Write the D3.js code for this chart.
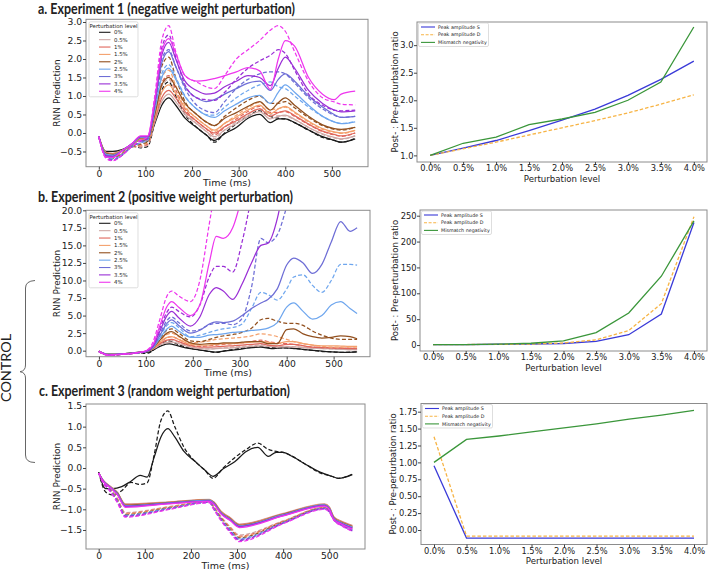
<!DOCTYPE html>
<html>
<head>
<meta charset="utf-8">
<script src="https://cdn.jsdelivr.net/npm/d3@7"></script>
<style>
body { margin: 0; background: #fff; }
svg { display: block; }
text { font-family: "DejaVu Sans", sans-serif; fill: #222; }
</style>
</head>
<body>
<script>
// ---- shared ----
var levels = ["0%", "0.5%", "1%", "1.5%", "2%", "2.5%", "3%", "3.5%", "4%"];
var levelColors = ["#1a1a1a", "#cfa9a7", "#e0675c", "#f4a06c", "#92501f", "#6ea6ee", "#6e6ed6", "#9a2fd6", "#ee36ee"];
var levelsX = ["0.0%", "0.5%", "1.0%", "1.5%", "2.0%", "2.5%", "3.0%", "3.5%", "4.0%"];
var timeTicks = [0, 100, 200, 300, 400, 500];

// control (0%) responses, standard (solid) and deviant (dashed)
var tA = [0,15,30,50,70,90,105,120,135,150,165,185,210,230,248,270,295,320,345,368,385,400,420,450,480,505,520,550];
var ctrlS = [-0.1,-0.5,-0.5,-0.45,-0.32,-0.18,-0.22,0.25,0.75,0.95,0.75,0.4,0.15,-0.05,-0.2,-0.02,0.15,0.4,0.5,0.28,0.38,0.38,0.28,0.08,-0.1,-0.2,-0.25,-0.16];
var ctrlD = [-0.1,-0.58,-0.65,-0.55,-0.35,-0.4,-0.36,0.3,1.15,1.38,1.0,0.5,0.15,-0.05,-0.25,0.0,0.25,0.45,0.6,0.45,0.4,0.38,0.28,0.08,-0.12,-0.2,-0.25,-0.15];

// ---- experiment 1 (levels 0.5% .. 4%) ----
var aS = [
  [-0.1,-0.52,-0.55,-0.47,-0.33,-0.17,-0.2,0.3,0.85,1.05,0.85,0.5,0.25,0.05,-0.1,0.08,0.25,0.45,0.58,0.38,0.45,0.48,0.37,0.15,-0.02,-0.12,-0.16,-0.08],
  [-0.1,-0.53,-0.56,-0.47,-0.33,-0.16,-0.18,0.35,0.95,1.15,0.95,0.58,0.32,0.12,0.0,0.17,0.33,0.52,0.65,0.45,0.55,0.6,0.47,0.24,0.05,-0.04,-0.08,0.0],
  [-0.1,-0.54,-0.57,-0.47,-0.32,-0.15,-0.16,0.42,1.1,1.3,1.07,0.67,0.4,0.2,0.08,0.26,0.43,0.62,0.75,0.52,0.65,0.72,0.57,0.32,0.12,0.03,0.0,0.07],
  [-0.1,-0.55,-0.58,-0.48,-0.32,-0.13,-0.14,0.5,1.3,1.5,1.25,0.8,0.5,0.3,0.2,0.4,0.55,0.72,0.85,0.62,0.82,0.95,0.75,0.45,0.22,0.12,0.1,0.15],
  [-0.1,-0.57,-0.6,-0.48,-0.32,-0.12,-0.12,0.6,1.5,1.75,1.45,0.98,0.65,0.48,0.42,0.6,0.78,0.95,1.02,0.8,1.1,1.3,1.1,0.75,0.45,0.3,0.25,0.3],
  [-0.1,-0.6,-0.62,-0.48,-0.3,-0.1,-0.1,0.7,1.9,2.2,1.8,1.25,0.95,0.85,0.9,1.05,1.2,1.35,1.4,1.15,1.45,1.6,1.4,1.0,0.7,0.5,0.42,0.45],
  [-0.1,-0.62,-0.64,-0.48,-0.3,-0.1,-0.1,0.8,2.1,2.45,2.0,1.4,1.15,1.05,1.08,1.25,1.4,1.55,1.5,1.28,1.75,2.05,1.75,1.15,0.8,0.62,0.57,0.6],
  [-0.1,-0.65,-0.66,-0.48,-0.3,-0.08,-0.08,0.9,2.2,2.55,2.15,1.55,1.4,1.42,1.47,1.55,1.65,1.77,1.68,1.18,2.0,2.5,2.35,1.5,1.05,0.9,1.05,1.13]
];
var aD = [
  [-0.1,-0.58,-0.65,-0.55,-0.37,-0.38,-0.33,0.35,1.25,1.45,1.08,0.58,0.25,0.05,-0.15,0.08,0.3,0.5,0.65,0.5,0.46,0.46,0.36,0.15,-0.04,-0.13,-0.17,-0.08],
  [-0.1,-0.6,-0.66,-0.55,-0.38,-0.35,-0.3,0.4,1.35,1.55,1.17,0.65,0.32,0.12,-0.05,0.16,0.38,0.58,0.72,0.56,0.56,0.58,0.45,0.23,0.04,-0.05,-0.09,0.0],
  [-0.1,-0.6,-0.67,-0.56,-0.38,-0.32,-0.27,0.48,1.5,1.7,1.28,0.73,0.4,0.2,0.04,0.26,0.48,0.68,0.83,0.63,0.66,0.7,0.55,0.3,0.1,0.02,-0.01,0.07],
  [-0.1,-0.6,-0.68,-0.57,-0.38,-0.3,-0.24,0.6,1.8,2.05,1.5,0.85,0.5,0.3,0.2,0.45,0.68,0.88,1.0,0.8,0.8,0.85,0.68,0.42,0.2,0.1,0.08,0.15],
  [-0.1,-0.62,-0.7,-0.58,-0.38,-0.27,-0.2,0.65,1.6,1.85,1.5,1.0,0.65,0.5,0.48,0.7,0.95,1.15,1.3,1.38,1.25,1.2,1.0,0.7,0.45,0.3,0.26,0.3],
  [-0.1,-0.64,-0.72,-0.6,-0.38,-0.25,-0.17,0.75,2.0,2.25,1.8,1.2,0.75,0.6,0.55,0.85,1.2,1.45,1.6,1.65,1.65,1.6,1.35,0.95,0.65,0.48,0.42,0.45],
  [-0.1,-0.66,-0.74,-0.6,-0.37,-0.22,-0.14,0.85,2.3,2.65,2.05,1.3,0.95,0.9,0.88,1.1,1.45,1.75,1.95,2.1,2.25,2.15,1.7,1.05,0.75,0.62,0.6,0.62],
  [-0.1,-0.68,-0.75,-0.6,-0.37,-0.2,-0.1,1.0,2.5,2.9,2.2,1.55,1.38,1.25,1.2,1.55,2.0,2.25,2.5,2.78,2.9,2.75,2.2,1.4,0.95,0.84,0.78,0.76]
];

// ---- experiment 2 ----
var tB = [0,20,50,80,100,115,130,145,155,170,195,215,235,250,265,285,305,325,345,360,380,400,415,435,455,475,495,515,535,550];
var bS = [
  [-0.1,-0.55,-0.45,-0.3,-0.1,0.2,0.8,1.15,1.2,1.0,0.5,0.3,0.25,0.3,0.35,0.4,0.5,0.6,0.7,0.6,0.5,0.55,0.55,0.45,0.35,0.3,0.25,0.2,0.15,0.15],
  [-0.1,-0.55,-0.45,-0.3,-0.1,0.25,1.0,1.5,1.6,1.3,0.7,0.5,0.5,0.55,0.6,0.7,0.8,0.9,1.0,0.8,0.7,0.9,0.9,0.7,0.5,0.45,0.4,0.35,0.3,0.3],
  [-0.1,-0.55,-0.45,-0.3,-0.1,0.3,1.2,1.9,2.0,1.6,0.9,0.8,0.8,0.9,1.0,1.0,1.1,1.2,1.3,1.2,1.0,1.3,1.3,1.0,0.8,0.7,0.7,0.65,0.6,0.6],
  [-0.1,-0.55,-0.45,-0.3,-0.1,0.35,1.5,2.5,2.7,2.1,1.1,0.9,1.0,1.0,1.1,1.1,1.2,1.3,1.3,1.0,1.0,3.0,3.1,2.4,2.0,1.8,1.9,2.1,2.0,1.7],
  [-0.1,-0.55,-0.45,-0.3,-0.1,0.4,1.8,3.1,3.5,2.8,1.9,1.9,2.2,2.3,2.4,2.6,2.7,2.9,3.0,3.2,4.0,6.2,6.8,5.6,4.5,5.0,6.5,7.0,6.0,5.3],
  [-0.1,-0.55,-0.45,-0.3,-0.1,0.5,2.2,3.9,4.4,3.6,2.5,2.9,3.8,4.1,4.0,4.2,5.0,6.0,6.8,7.3,8.8,12.2,13.2,12.5,11.0,12.3,15.5,18.4,17.0,17.5],
  [-0.1,-0.6,-0.5,-0.3,-0.1,0.6,2.8,5.0,5.6,4.7,3.5,4.8,8.0,9.0,8.5,7.3,9.5,12.5,15.0,15.3,18.8,26],
  [-0.1,-0.62,-0.5,-0.3,-0.05,0.8,3.6,6.3,7.0,6.2,5.0,6.5,12.5,16.3,16.0,17.5,22]
];
var bD = [
  [-0.1,-0.6,-0.5,-0.35,-0.15,0.25,1.0,1.45,1.5,1.2,0.55,0.3,0.25,0.3,0.4,0.5,0.6,0.7,0.85,0.75,0.6,0.6,0.55,0.45,0.35,0.3,0.25,0.2,0.15,0.15],
  [-0.1,-0.6,-0.5,-0.35,-0.15,0.3,1.2,1.85,2.0,1.6,0.8,0.6,0.7,0.8,0.9,1.0,1.1,1.3,1.5,1.3,1.1,1.0,0.9,0.7,0.5,0.45,0.4,0.35,0.35,0.3],
  [-0.1,-0.6,-0.5,-0.35,-0.15,0.35,1.4,2.3,2.5,2.0,1.1,1.2,1.4,1.6,1.7,1.8,1.9,2.1,2.4,2.3,2.0,1.6,1.3,1.0,0.8,0.6,0.5,0.5,0.5,0.5],
  [-0.1,-0.6,-0.5,-0.35,-0.15,0.4,1.7,2.9,3.1,2.5,1.4,1.3,1.6,1.9,2.1,2.3,2.6,3.2,4.4,4.6,4.2,3.9,3.9,3.6,2.8,2.2,1.8,1.6,1.6,1.6],
  [-0.1,-0.6,-0.5,-0.35,-0.15,0.45,2.1,3.6,4.0,3.3,2.0,2.2,2.6,2.9,3.1,3.3,3.8,6.0,8.3,8.0,7.2,8.8,10.5,10.8,9.3,8.3,10.0,12.3,12.3,12.2],
  [-0.1,-0.6,-0.5,-0.35,-0.15,0.55,2.4,4.3,4.8,4.0,2.8,3.0,3.7,3.9,3.9,3.7,4.6,9.0,16.0,15.4,16.5,20.5,24],
  [-0.1,-0.62,-0.5,-0.3,-0.1,0.7,3.2,5.5,6.2,5.6,4.8,6.5,10.5,12.0,12.0,11.2,15.5,22],
  [-0.1,-0.65,-0.5,-0.3,0.0,1.2,4.5,7.8,8.5,7.8,7.0,10.0,18.0,24]
];

// ---- experiment 3 ----
var tC = [0,10,25,40,58,150,240,250,265,285,305,400,490,500,510,525,550];
var cS = [
  [-0.12,-0.3,-0.44,-0.58,-0.87,-0.82,-0.76,-0.82,-1.04,-1.2,-1.36,-1.1,-0.87,-0.94,-1.18,-1.28,-1.39],
  [-0.12,-0.3,-0.45,-0.59,-0.88,-0.83,-0.77,-0.83,-1.05,-1.21,-1.37,-1.11,-0.88,-0.95,-1.19,-1.29,-1.4],
  [-0.12,-0.31,-0.45,-0.6,-0.89,-0.83,-0.77,-0.84,-1.06,-1.22,-1.38,-1.12,-0.88,-0.96,-1.2,-1.3,-1.41],
  [-0.12,-0.31,-0.46,-0.6,-0.9,-0.84,-0.78,-0.84,-1.07,-1.23,-1.39,-1.12,-0.89,-0.97,-1.21,-1.31,-1.42],
  [-0.12,-0.31,-0.46,-0.61,-0.91,-0.85,-0.78,-0.85,-1.08,-1.24,-1.4,-1.13,-0.89,-0.97,-1.22,-1.32,-1.43],
  [-0.12,-0.32,-0.47,-0.62,-0.92,-0.85,-0.79,-0.86,-1.09,-1.25,-1.41,-1.14,-0.9,-0.98,-1.23,-1.33,-1.45],
  [-0.12,-0.32,-0.47,-0.63,-0.93,-0.86,-0.8,-0.87,-1.1,-1.26,-1.42,-1.15,-0.91,-0.99,-1.24,-1.34,-1.46],
  [-0.12,-0.33,-0.48,-0.64,-0.95,-0.87,-0.81,-0.88,-1.11,-1.27,-1.44,-1.16,-0.92,-1.0,-1.25,-1.35,-1.48]
];
var cD = [
  [-0.12,-0.33,-0.5,-0.72,-1.08,-0.94,-0.8,-0.94,-1.17,-1.42,-1.62,-1.28,-0.95,-1.0,-1.2,-1.32,-1.43],
  [-0.12,-0.34,-0.51,-0.74,-1.1,-0.95,-0.81,-0.95,-1.19,-1.44,-1.65,-1.29,-0.96,-1.01,-1.21,-1.33,-1.45],
  [-0.12,-0.34,-0.52,-0.75,-1.11,-0.96,-0.81,-0.96,-1.2,-1.46,-1.67,-1.3,-0.96,-1.02,-1.22,-1.34,-1.46],
  [-0.12,-0.35,-0.53,-0.77,-1.13,-0.97,-0.82,-0.97,-1.21,-1.48,-1.69,-1.31,-0.97,-1.03,-1.23,-1.35,-1.47],
  [-0.12,-0.35,-0.54,-0.78,-1.14,-0.98,-0.82,-0.98,-1.23,-1.5,-1.71,-1.32,-0.98,-1.04,-1.24,-1.36,-1.49],
  [-0.12,-0.36,-0.55,-0.8,-1.16,-0.99,-0.83,-0.99,-1.24,-1.52,-1.73,-1.33,-0.98,-1.05,-1.25,-1.37,-1.5],
  [-0.12,-0.36,-0.56,-0.81,-1.17,-1.0,-0.83,-1.0,-1.25,-1.54,-1.75,-1.34,-0.99,-1.06,-1.26,-1.38,-1.52],
  [-0.12,-0.37,-0.57,-0.83,-1.19,-1.01,-0.84,-1.01,-1.27,-1.56,-1.78,-1.35,-1.0,-1.07,-1.27,-1.39,-1.53]
];

// ---- post : pre ratios ----
var ratioA_S = [1.0,1.13,1.27,1.45,1.64,1.84,2.09,2.38,2.71];
var ratioA_D = [1.0,1.12,1.24,1.37,1.5,1.63,1.77,1.93,2.1];
var ratioA_M = [1.0,1.22,1.33,1.56,1.66,1.78,2.0,2.33,3.33];
var ratioB_S = [1,1,1.5,2,3,7,20,60,237];
var ratioB_D = [1,1,1.3,2,4,10,28,80,248];
var ratioB_M = [1,1,1.8,3.5,8,24,62,133,240];
var ratioC_S = [0.95,-0.12,-0.12,-0.12,-0.12,-0.12,-0.12,-0.12,-0.12];
var ratioC_D = [1.38,-0.09,-0.09,-0.09,-0.09,-0.09,-0.09,-0.09,-0.09];
var ratioC_M = [1.0,1.34,1.39,1.45,1.51,1.57,1.64,1.7,1.77];
var ratioNames = ["Peak amplitude S", "Peak amplitude D", "Mismatch negativity"];
var ratioColors = ["#3a3ad8", "#f7b445", "#3a963a"];

var svg = d3.select("body").append("svg").attr("width", 709).attr("height", 572);

function frame(x0, y0, x1, y1) {
  svg.append("rect").attr("x", x0).attr("y", y0).attr("width", x1 - x0).attr("height", y1 - y0)
    .attr("fill", "none").attr("stroke", "#8c8c8c").attr("stroke-width", 1);
}

function styleAxis(g, fs) {
  g.select(".domain").remove();
  g.selectAll(".tick line").attr("stroke", "#444");
  g.selectAll(".tick text").style("font-size", fs + "px").style("font-family", "DejaVu Sans").attr("fill", "#222");
}

function seriesFor(rowsS, rowsD, times) {
  var out = [];
  out.push({t: tA, v: ctrlS, color: levelColors[0], dash: false});
  out.push({t: tA, v: ctrlD, color: levelColors[0], dash: true});
  rowsS.forEach(function(r, i) {
    out.push({t: times, v: r, color: levelColors[i + 1], dash: false});
    out.push({t: times, v: rowsD[i], color: levelColors[i + 1], dash: true});
  });
  return out;
}

function drawLeft(p) {
  var x = d3.scaleLinear().domain([-27.5, 577.5]).range([p.x0, p.x1]);
  var y = d3.scaleLinear().domain(p.ydom).range([p.y1, p.y0]);
  svg.append("clipPath").attr("id", "clip" + p.id).append("rect")
    .attr("x", p.x0).attr("y", p.y0).attr("width", p.x1 - p.x0).attr("height", p.y1 - p.y0);
  var g = svg.append("g").attr("clip-path", "url(#clip" + p.id + ")");
  var line = d3.line().x(function(d) { return x(d[0]); }).y(function(d) { return y(d[1]); })
    .curve(d3.curveMonotoneX);
  p.series.forEach(function(s) {
    var pts = s.v.map(function(v, i) { return [s.t[i], v]; });
    g.append("path").attr("d", line(pts)).attr("fill", "none")
      .attr("stroke", s.color).attr("stroke-width", 1.25)
      .attr("stroke-dasharray", s.dash ? "4,2.2" : null);
  });
  frame(p.x0, p.y0, p.x1, p.y1);

  var gx = svg.append("g").attr("transform", "translate(0," + p.y1 + ")")
    .call(d3.axisBottom(x).tickValues(timeTicks).tickSize(3).tickPadding(0.5).tickFormat(d3.format("d")));
  styleAxis(gx, 9.2);
  var gy = svg.append("g").attr("transform", "translate(" + p.x0 + ",0)")
    .call(d3.axisLeft(y).tickValues(p.yticks).tickSize(3).tickPadding(0.8).tickFormat(d3.format(".1f")));
  styleAxis(gy, 9.2);

  svg.append("text").attr("x", (p.x0 + p.x1) / 2).attr("y", p.y1 + 19.5)
    .attr("text-anchor", "middle").style("font-size", "9.5px").text("Time (ms)");
  svg.append("text").attr("transform", "translate(60," + (p.y0 + p.y1) / 2 + ") rotate(-90)")
    .attr("text-anchor", "middle").style("font-size", "9px").text("RNN Prediction");

  if (p.legend) {
    var lx = p.x0 + 3, ly = p.y0 + 2.5;
    svg.append("rect").attr("x", lx).attr("y", ly).attr("width", 49).attr("height", 75).attr("rx", 1.5)
      .attr("fill", "#fff").attr("fill-opacity", 0.85).attr("stroke", "#d0d0d0").attr("stroke-width", 0.7);
    svg.append("text").attr("x", lx + 24.5).attr("y", ly + 5.8).attr("text-anchor", "middle")
      .style("font-size", "5.4px").text("Perturbation level");
    levels.forEach(function(lab, i) {
      var yy = ly + 10.5 + i * 7.37;
      svg.append("line").attr("x1", lx + 10).attr("x2", lx + 21.5).attr("y1", yy).attr("y2", yy)
        .attr("stroke", levelColors[i]).attr("stroke-width", 1.1);
      svg.append("text").attr("x", lx + 25).attr("y", yy + 1.9).style("font-size", "5.4px").text(lab);
    });
  }
}

function drawRight(p) {
  var x = d3.scaleLinear().domain([-0.4, 8.4]).range([p.x0, p.x1]);
  var y = d3.scaleLinear().domain(p.ydom).range([p.y1, p.y0]);
  var line = d3.line().x(function(d, i) { return x(i); }).y(function(d) { return y(d); });
  [p.s, p.d, p.m].forEach(function(vals, k) {
    svg.append("path").attr("d", line(vals)).attr("fill", "none")
      .attr("stroke", ratioColors[k]).attr("stroke-width", 1.3)
      .attr("stroke-dasharray", k === 1 ? "3.5,2" : null);
  });
  frame(p.x0, p.y0, p.x1, p.y1);

  var gx = svg.append("g").attr("transform", "translate(0," + p.y1 + ")")
    .call(d3.axisBottom(x).tickValues(d3.range(9)).tickSize(3).tickPadding(0.5)
      .tickFormat(function(i) { return levelsX[i]; }));
  styleAxis(gx, 8.3);
  var gy = svg.append("g").attr("transform", "translate(" + p.x0 + ",0)")
    .call(d3.axisLeft(y).tickValues(p.yticks).tickSize(3).tickPadding(0.5).tickFormat(d3.format(p.yfmt)));
  styleAxis(gy, 8.3);

  svg.append("text").attr("x", (p.x0 + p.x1) / 2).attr("y", p.y1 + 19.5)
    .attr("text-anchor", "middle").style("font-size", "8.6px").text("Perturbation level");
  svg.append("text").attr("transform", "translate(" + p.labx + "," + (p.y0 + p.y1) / 2 + ") rotate(-90)")
    .attr("text-anchor", "middle").style("font-size", "8.5px").text("Post- : Pre-perturbation ratio");

  var lx = p.x0 + 1.5, ly = p.y0 + 1;
  svg.append("rect").attr("x", lx).attr("y", ly).attr("width", 70).attr("height", 23.5).attr("rx", 1.5)
    .attr("fill", "#fff").attr("fill-opacity", 0.85).attr("stroke", "#d0d0d0").attr("stroke-width", 0.7);
  ratioNames.forEach(function(nm, k) {
    var yy = ly + 4 + k * 7.7;
    svg.append("line").attr("x1", lx + 2.5).attr("x2", lx + 16.5).attr("y1", yy).attr("y2", yy)
      .attr("stroke", ratioColors[k]).attr("stroke-width", 1.1)
      .attr("stroke-dasharray", k === 1 ? "3,1.6" : null);
    svg.append("text").attr("x", lx + 19.5).attr("y", yy + 1.7).style("font-size", "4.8px").text(nm);
  });
}

function title(txt, x, y, w) {
  svg.append("text").attr("x", x).attr("y", y).attr("textLength", w).attr("lengthAdjust", "spacingAndGlyphs")
    .style("font-family", "Lato").style("font-weight", "700").style("font-size", "14.5px").attr("fill", "#111")
    .text(txt);
}

// ---- panel a ----
title("a. Experiment 1 (negative weight perturbation)", 38, 13.5, 257);
drawLeft({id: "a", x0: 86, x1: 368, y0: 19.3, y1: 166.7, ydom: [-0.911, 3.073],
  yticks: [-0.5, 0, 0.5, 1, 1.5, 2, 2.5, 3], series: seriesFor(aS, aD, tA), legend: true});
drawRight({x0: 417, x1: 707, y0: 22, y1: 162, ydom: [0.88, 3.42], yticks: [1, 1.5, 2, 2.5, 3], yfmt: ".1f",
  labx: 398, s: ratioA_S, d: ratioA_D, m: ratioA_M});

// ---- panel b ----
title("b. Experiment 2 (positive weight perturbation)", 38, 201.8, 255);
drawLeft({id: "b", x0: 86, x1: 370, y0: 210.3, y1: 356.7, ydom: [-0.86, 20],
  yticks: [0, 2.5, 5, 7.5, 10, 12.5, 15, 17.5, 20], series: seriesFor(bS, bD, tB), legend: true});
drawRight({x0: 420, x1: 707, y0: 210, y1: 351, ydom: [-11.5, 261], yticks: [0, 50, 100, 150, 200, 250], yfmt: "d",
  labx: 398, s: ratioB_S, d: ratioB_D, m: ratioB_M});

// ---- panel c ----
title("c. Experiment 3 (random weight perturbation)", 39, 396, 251);
drawLeft({id: "c", x0: 86, x1: 365, y0: 404, y1: 549, ydom: [-1.96, 1.548],
  yticks: [-1.5, -1, -0.5, 0, 0.5, 1, 1.5], series: seriesFor(cS, cD, tC), legend: false});
drawRight({x0: 421, x1: 707, y0: 403.5, y1: 544.5, ydom: [-0.2145, 1.871],
  yticks: [0, 0.25, 0.5, 0.75, 1, 1.25, 1.5, 1.75], yfmt: ".2f",
  labx: 396, s: ratioC_S, d: ratioC_D, m: ratioC_M});

// ---- CONTROL bracket ----
svg.append("path")
  .attr("d", "M35,280.5 Q25.5,281 25.5,288 L25.5,365 Q25.5,371 20,371.7 Q25.5,372.5 25.5,378 L25.5,455 Q25.5,462.5 35,462.5")
  .attr("fill", "none").attr("stroke", "#666").attr("stroke-width", 1);
svg.append("text").attr("transform", "translate(11,368) rotate(-90)").attr("text-anchor", "middle")
  .attr("textLength", 68).attr("lengthAdjust", "spacingAndGlyphs")
  .style("font-family", "Lato").style("font-size", "12.5px").attr("fill", "#222").text("CONTROL");
</script>
</body>
</html>
